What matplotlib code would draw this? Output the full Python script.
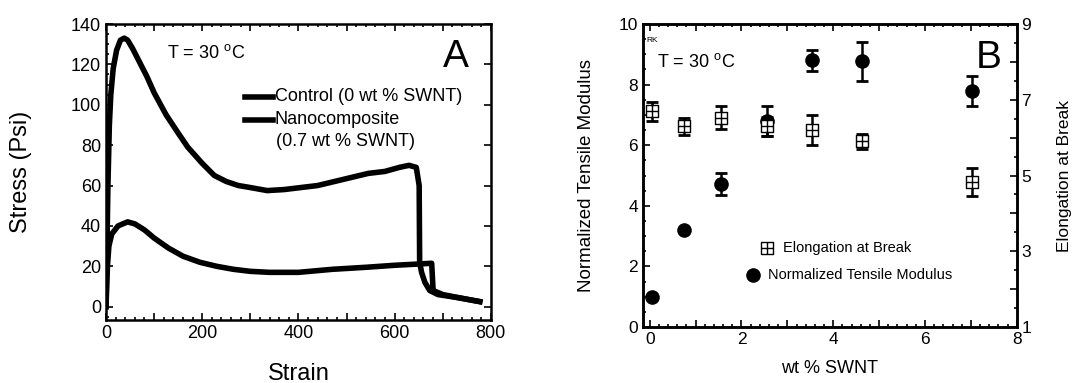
import matplotlib
matplotlib.use("Agg")
import matplotlib.pyplot as plt
import numpy as np
from matplotlib.path import Path
from matplotlib.ticker import MultipleLocator, FuncFormatter

plt.rcParams['font.family'] = ['Liberation Sans', 'DejaVu Sans']
plt.rcParams['mathtext.fontset'] = 'custom'
plt.rcParams['mathtext.rm'] = 'Liberation Sans'
plt.rcParams['mathtext.it'] = 'Liberation Sans'

# panel A: stress-strain curves
control_strain = [0, 2, 4, 7, 10, 15, 22, 30, 38, 45, 55, 70, 85, 100, 125, 150, 170, 200, 225,
                  250, 275, 300, 335, 370, 405, 440, 475, 510, 545, 580, 610, 630, 645, 651, 652,
                  656, 663, 673, 690, 736, 777]
control_stress = [0, 30, 60, 90, 105, 118, 127, 132, 133, 132, 128, 121, 114, 106, 95, 86, 79, 71, 65,
                  62, 60, 59, 57.5, 58, 59, 60, 62, 64, 66, 67, 69, 70, 69, 60, 22,
                  17, 12, 8, 6, 4.3, 2.5]
nano_strain = [0, 3, 6, 12, 25, 45, 60, 80, 100, 130, 160, 195, 230, 265, 300, 340, 400, 470, 540,
               600, 640, 677, 680, 700, 736, 777]
nano_stress = [0, 20, 30, 36, 40, 42, 41, 38, 34, 29, 25, 22, 20, 18.5, 17.5, 17, 17, 18.5, 19.5,
               20.5, 21, 21.5, 8, 6, 4.3, 2.5]

# panel B: modulus and elongation vs SWNT loading
wt_swnt = [0.05, 0.75, 1.55, 2.55, 3.54, 4.63, 7.02]
modulus = [1.0, 3.2, 4.72, 6.8, 8.8, 8.77, 7.8]
modulus_err = [0.0, 0.0, 0.37, 0.5, 0.35, 0.65, 0.5]
elongation = [6.7, 6.3, 6.53, 6.3, 6.2, 5.9, 4.82]
elongation_err = [0.25, 0.22, 0.31, 0.25, 0.4, 0.2, 0.37]

fig = plt.figure(figsize=(10.75, 3.83), dpi=100)
axA = fig.add_axes([0.0986, 0.1645, 0.358, 0.7728])
axB = fig.add_axes([0.598, 0.1462, 0.3478, 0.7911])


def style_ticks(ax):
    ax.tick_params(which='both', direction='in', top=True, width=1.2, colors='black')
    ax.tick_params(which='major', length=5)
    ax.tick_params(which='minor', length=2.5)
    for s in ax.spines.values():
        s.set_linewidth(1.8)


# ---- A ----
lw = 4
axA.plot(control_strain, control_stress, color='black', lw=lw, solid_joinstyle='round')
axA.plot(nano_strain, nano_stress, color='black', lw=lw, solid_joinstyle='round')
axA.set_xlim(0, 800)
axA.set_ylim(-6.6, 140)
axA.xaxis.set_major_locator(MultipleLocator(100))
axA.xaxis.set_major_formatter(FuncFormatter(lambda v, p: '%d' % v if int(v) % 200 == 0 else ''))
axA.xaxis.set_minor_locator(MultipleLocator(20))
axA.yaxis.set_major_locator(MultipleLocator(20))
axA.yaxis.set_minor_locator(MultipleLocator(5))
style_ticks(axA)
axA.tick_params(right=True, labelsize=13)
axA.set_ylabel('Stress (Psi)', fontsize=17)
axA.set_xlabel('Strain', fontsize=17)
axA.yaxis.set_label_coords(-0.193, 0.5)
axA.xaxis.set_label_coords(0.5, -0.145)
axA.text(0.158, 0.902, r'T = 30 $^{\mathrm{o}}$C', transform=axA.transAxes, fontsize=13, va='center')
axA.text(0.943, 0.887, 'A', transform=axA.transAxes, fontsize=28, ha='right', va='center')
axA.plot([0.361, 0.434], [0.754, 0.754], transform=axA.transAxes, color='black', lw=lw)
axA.plot([0.361, 0.434], [0.676, 0.676], transform=axA.transAxes, color='black', lw=lw)
axA.text(0.439, 0.754, 'Control (0 wt % SWNT)', transform=axA.transAxes, fontsize=13, va='center')
axA.text(0.439, 0.676, 'Nanocomposite', transform=axA.transAxes, fontsize=13, va='center')
axA.text(0.443, 0.602, '(0.7 wt % SWNT)', transform=axA.transAxes, fontsize=13, va='center')

# ---- B ----
sq = 0.5
verts = [(-sq, -sq), (sq, -sq), (sq, sq), (-sq, sq), (-sq, -sq),
         (0, -sq), (0, sq), (-sq, 0), (sq, 0)]
codes = [Path.MOVETO, Path.LINETO, Path.LINETO, Path.LINETO, Path.CLOSEPOLY,
         Path.MOVETO, Path.LINETO, Path.MOVETO, Path.LINETO]
box_cross = Path(verts, codes)

axB2 = axB.twinx()
axB2.errorbar(wt_swnt, elongation, yerr=elongation_err, fmt='none', ecolor='black',
              elinewidth=1.8, capsize=4.5, capthick=2, zorder=2)
axB2.plot(wt_swnt, elongation, linestyle='none', marker=box_cross, markersize=8,
          markerfacecolor='white', markeredgecolor='black', markeredgewidth=1.0, zorder=3)
axB.errorbar(wt_swnt, modulus, yerr=modulus_err, fmt='o', color='black', markersize=9.5,
             elinewidth=1.8, capsize=4.5, capthick=2)
axB.set_xlim(-0.15, 8)
axB.set_ylim(0, 10)
axB2.set_ylim(1, 9)
axB.xaxis.set_major_locator(MultipleLocator(1))
axB.xaxis.set_major_formatter(FuncFormatter(lambda v, p: '%d' % v if int(round(v)) % 2 == 0 else ''))
axB.xaxis.set_minor_locator(MultipleLocator(0.2))
axB.yaxis.set_major_locator(MultipleLocator(2))
axB.yaxis.set_minor_locator(MultipleLocator(0.5))
axB2.yaxis.set_major_locator(MultipleLocator(1))
axB2.yaxis.set_major_formatter(FuncFormatter(lambda v, p: '%d' % v if int(round(v)) % 2 == 1 else ''))
axB2.yaxis.set_minor_locator(MultipleLocator(0.5))
style_ticks(axB)
style_ticks(axB2)
axB.tick_params(right=False, labelsize=12.5)
axB2.tick_params(labelsize=12.5)
axB.set_ylabel('Normalized Tensile Modulus', fontsize=13.5)
axB.set_xlabel('wt % SWNT', fontsize=13)
axB.yaxis.set_label_coords(-0.128, 0.5)
axB.xaxis.set_label_coords(0.5, -0.109)
axB2.set_ylabel('Elongation at Break', fontsize=12.5)
axB2.yaxis.set_label_coords(1.107, 0.5)
axB.text(0.01, 0.947, 'RK', transform=axB.transAxes, fontsize=6, va='center')
axB.text(0.037, 0.876, r'T = 30 $^{\mathrm{o}}$C', transform=axB.transAxes, fontsize=13, va='center')
axB.text(0.96, 0.888, 'B', transform=axB.transAxes, fontsize=28, ha='right', va='center')
axB.plot([0.331], [0.261], transform=axB.transAxes, linestyle='none', marker=box_cross,
         markersize=8, markerfacecolor='white', markeredgecolor='black', markeredgewidth=1.0)
axB.text(0.375, 0.261, 'Elongation at Break', transform=axB.transAxes, fontsize=10.5, va='center')
axB.plot([0.294], [0.172], transform=axB.transAxes, linestyle='none', marker='o',
         markersize=9.5, color='black')
axB.text(0.334, 0.172, 'Normalized Tensile Modulus', transform=axB.transAxes, fontsize=10.5, va='center')

fig.savefig('out.png', dpi=100)
